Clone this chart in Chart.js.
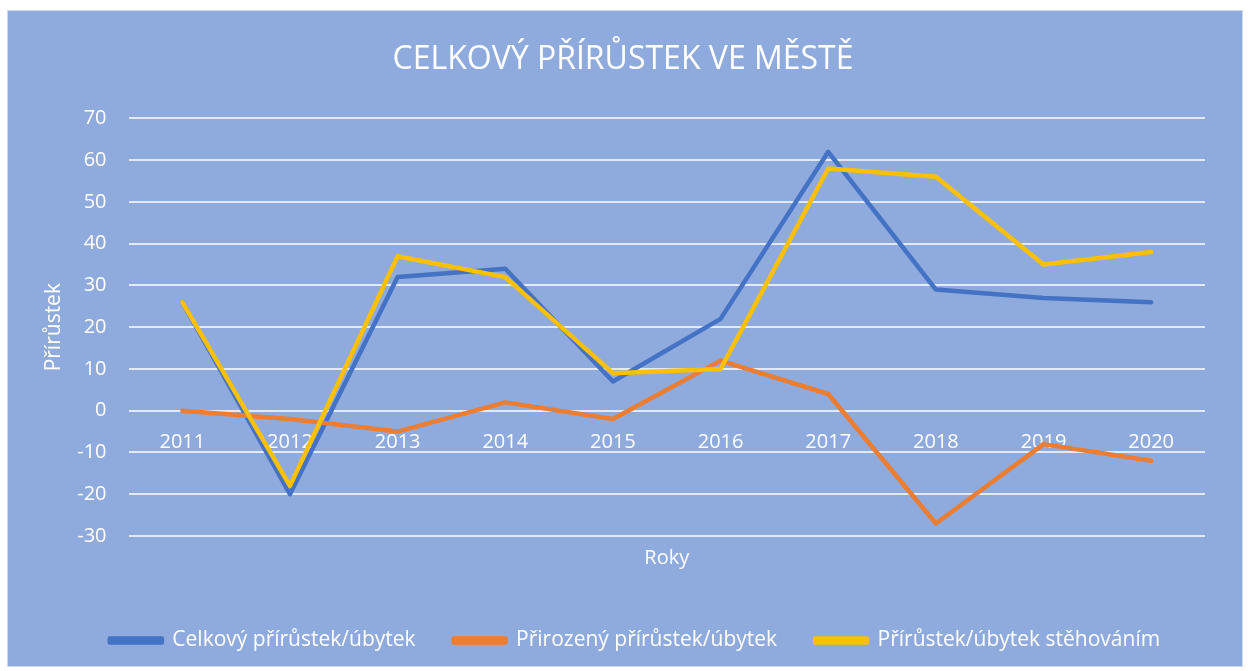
<!DOCTYPE html>
<html>
<head>
<meta charset="utf-8">
<script src="https://cdn.jsdelivr.net/npm/chart.js@4"></script>
<style>
  html, body { margin: 0; padding: 0; background: #ffffff; }
  #wrap {
    position: absolute; left: 7px; top: 10px;
    width: 1234px; height: 655px;
    background: #8faadc; border: 1px solid #d0d7e5;
  }
</style>
</head>
<body>
<div id="wrap"><canvas id="chart"></canvas></div>
<script>
// Data
const years = ['2011', '2012', '2013', '2014', '2015', '2016', '2017', '2018', '2019', '2020'];
const celkovy = [26, -20, 32, 34, 7, 22, 62, 29, 27, 26];
const prirozeny = [0, -2, -5, 2, -2, 12, 4, -27, -8, -12];
const stehovani = [26, -18, 37, 32, 9, 10, 58, 56, 35, 38];

const FONT = "'Open Sans', sans-serif";
const WHITE = '#ffffff';

// legend sits a little right of centre in the reference
const legendShift = {
  id: 'legendShift',
  afterLayout(chart) {
    chart.legend.left += 12;
    chart.legend.right += 12;
  }
};

const ctx = document.getElementById('chart').getContext('2d');

new Chart(ctx, {
  type: 'line',
  data: {
    labels: years,
    datasets: [
      {
        label: 'Celkový přírůstek/úbytek',
        data: celkovy,
        borderColor: '#4472c4',
        backgroundColor: '#4472c4',
        order: 2
      },
      {
        label: 'Přirozený přírůstek/úbytek',
        data: prirozeny,
        borderColor: '#ed7d31',
        backgroundColor: '#ed7d31',
        order: 1
      },
      {
        label: 'Přírůstek/úbytek stěhováním',
        data: stehovani,
        borderColor: '#ffc000',
        backgroundColor: '#ffc000',
        order: 0
      }
    ]
  },
  plugins: [legendShift],
  options: {
    responsive: true,
    maintainAspectRatio: false,
    animation: false,
    elements: {
      line: { borderWidth: 4.5, tension: 0, borderJoinStyle: 'round', borderCapStyle: 'round' },
      point: { radius: 0 }
    },
    layout: { padding: { top: 22, left: 33, right: 37, bottom: 5 } },
    plugins: {
      title: {
        display: true,
        text: 'CELKOVÝ PŘÍRŮSTEK VE MĚSTĚ',
        color: WHITE,
        font: { family: FONT, size: 32, weight: 'normal' },
        padding: { top: 8, bottom: 39 }
      },
      legend: {
        position: 'bottom',
        labels: {
          color: WHITE,
          font: { family: FONT, size: 21 },
          boxWidth: 52,
          boxHeight: 4,
          padding: 38,
          sort: (a, b) => a.datasetIndex - b.datasetIndex
        }
      },
      tooltip: { enabled: false }
    },
    scales: {
      x: {
        position: { y: 0 },
        offset: true,
        grid: { display: false, drawTicks: false },
        border: { display: false },
        ticks: {
          color: WHITE,
          font: { family: FONT, size: 20 },
          padding: 20,
          maxRotation: 0
        }
      },
      x2: {
        type: 'category',
        labels: years,
        position: 'bottom',
        grid: { display: false, drawTicks: false },
        border: { display: false },
        ticks: { display: false },
        title: {
          display: true,
          text: 'Roky',
          color: WHITE,
          font: { family: FONT, size: 20 },
          padding: { top: 10, bottom: 22 }
        }
      },
      y: {
        min: -30,
        max: 70,
        afterFit: (scale) => { scale.width -= 11; },
        ticks: {
          stepSize: 10,
          color: WHITE,
          font: { family: FONT, size: 20 },
          padding: 22
        },
        grid: { color: 'rgba(235, 241, 250, 0.9)', lineWidth: 2, drawTicks: false },
        border: { display: false },
        title: {
          display: true,
          text: 'Přírůstek',
          color: WHITE,
          font: { family: FONT, size: 21 },
          padding: { top: 0, bottom: 0 }
        }
      }
    }
  }
});
</script>
</body>
</html>
